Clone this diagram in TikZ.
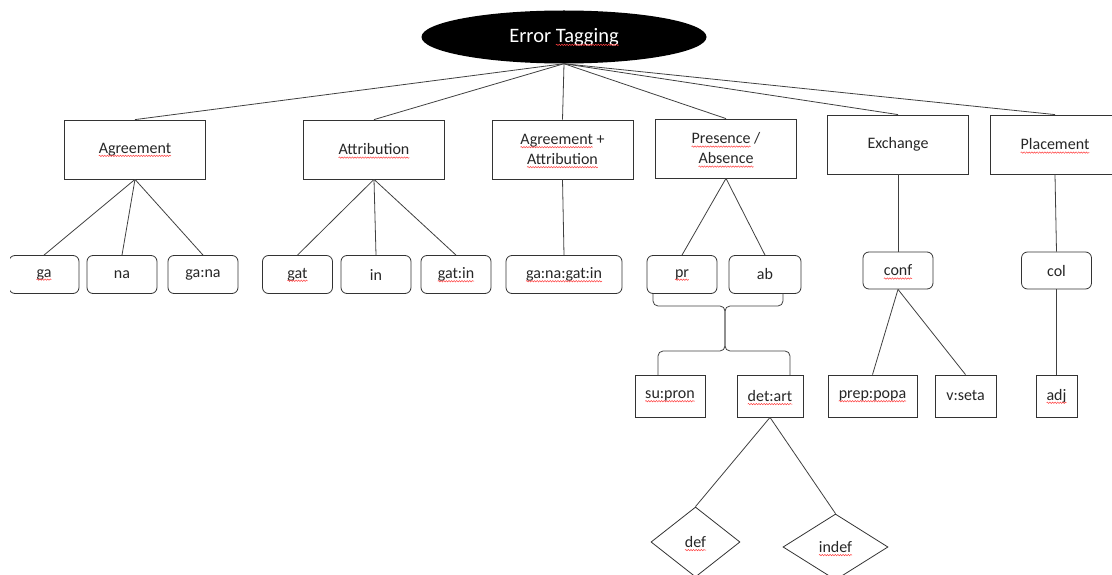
\documentclass[tikz,border=0pt]{standalone}
\usepackage{fontspec}
\setmainfont{Carlito}
\usetikzlibrary{shapes.geometric, decorations.pathmorphing}

% red spell-check squiggle under a word
\newcommand{\spellmark}[1]{\tikz[baseline=(sw.base)]{%
    \node[shape=rectangle, draw=none, fill=none, inner sep=0pt, outer sep=0pt, minimum width=0pt, minimum height=0pt] (sw) {#1};
    \draw[overlay, sharp corners, red!75, line width=0.5pt, decorate, decoration={snake, amplitude=0.7pt, segment length=2.6pt}]
        ([yshift=-2.6pt]sw.base west) -- ([yshift=-2.6pt]sw.base east);}}

\begin{document}
\begin{tikzpicture}[
        x=1pt, y=-1pt,
        font=\fontsize{16}{20}\selectfont,
        head/.style={ellipse, fill=black, text=white, minimum width=285pt, minimum height=53pt, font=\fontsize{20.5}{24}\selectfont},
        cat/.style={rectangle, draw=black!80, line width=0.8pt, minimum width=141pt, minimum height=59pt, align=center, inner sep=0pt, text=black!85},
        leaf/.style={rectangle, draw=black!80, line width=0.8pt, rounded corners=6pt, minimum width=70pt, minimum height=38pt, inner sep=0pt, text=black!85},
        tag/.style={rectangle, draw=black!80, line width=0.8pt, minimum height=42pt, inner sep=0pt, text=black!85},
        opt/.style={diamond, draw=black!80, line width=0.8pt, inner sep=0pt, text=black!85},
        con/.style={draw=black!75, line width=0.8pt}
    ]
        \useasboundingbox (0,0) rectangle (1112,575);
        \clip (10,0) rectangle (1112,575);

        % Root
        \node[head] (root) at (564,37) {Error \spellmark{Tagging}};

        % Error classes
        \node[cat] (agr) at (135,149.5) {\spellmark{Agreement}};
        \node[cat] (att) at (374,149.5) {\spellmark{Attribution}};
        \node[cat] (aga) at (562.5,149.5) {\spellmark{Agreement} +\\\spellmark{Attribution}};
        \node[cat] (pab) at (726,148.5) {\spellmark{Presence} /\\\spellmark{Absence}};
        \node[cat] (exc) at (898,144.5) {Exchange};
        \node[cat, minimum width=130pt] (plc) at (1055,144.5) {\spellmark{Placement}};

        % Tags, first level
        \node[leaf] (ga) at (44,274.5) {\spellmark{ga}};
        \node[leaf] (na) at (122,274.5) {na};
        \node[leaf] (gana) at (203,274.5) {ga:na};
        \node[leaf] (gat) at (297.5,274.5) {\spellmark{gat}};
        \node[leaf] (in) at (376,274.5) {in};
        \node[leaf] (gatin) at (456,274.5) {\spellmark{gat:in}};
        \node[leaf, minimum width=116pt] (gnga) at (564,274.5) {\spellmark{ga:na:gat:in}};
        \node[leaf] (pr) at (682,274.5) {\spellmark{pr}};
        \node[leaf, minimum width=72pt] (ab) at (765,274.5) {ab};
        \node[leaf, minimum height=37pt] (conf) at (898,270.5) {\spellmark{conf}};
        \node[leaf, minimum height=37pt] (col) at (1056.5,270.5) {col};

        % Tags, second level
        \node[tag, minimum width=70pt] (supron) at (670,396) {\spellmark{su:pron}};
        \node[tag, minimum width=66pt] (detart) at (770,396) {\spellmark{det:art}};
        \node[tag, minimum width=89pt] (prep) at (872.5,396) {\spellmark{prep:popa}};
        \node[tag, minimum width=61pt] (vseta) at (965.5,396) {v:seta};
        \node[tag, minimum width=41pt] (adj) at (1056.5,396) {\spellmark{adj}};

        % Article types
        \node[opt, minimum width=89pt, minimum height=70pt] (def) at (695.5,542) {\spellmark{def}};
        \node[opt, minimum width=105pt, minimum height=66pt] (indef) at (835.5,547) {\spellmark{indef}};

        % Brace points
        \coordinate (brl) at (653,293);
        \coordinate (brr) at (783,293);
        \coordinate (brm) at (725,306);
        \coordinate (brj) at (725,351);
        \coordinate (bsl) at (658,375);
        \coordinate (bsr) at (790,375);

        % Root to classes
        \foreach \c in {agr, att, aga, pab, exc, plc}
            \draw[con] (root.south) -- (\c.north);

        % Classes to tags
        \draw[con] (agr.south) -- (ga.north);
        \draw[con] (agr.south) -- (na.north);
        \draw[con] (agr.south) -- (gana.north);
        \draw[con] (att.south) -- (gat.north);
        \draw[con] (att.south) -- (in.north);
        \draw[con] (att.south) -- (gatin.north);
        \draw[con] (aga.south) -- (gnga.north);
        \draw[con] (pab.south) -- (pr.north);
        \draw[con] (pab.south) -- (ab.north);
        \draw[con] (exc.south) -- (conf.north);
        \draw[con] (plc.south) -- (col.north);

        % Braces under pr / ab
        \draw[con, rounded corners=5pt] (brl) |- (brm) -- (brj) -| (bsl);
        \draw[con, rounded corners=5pt] (brr) |- (brm) -- (brj) -| (bsr);

        % Second level
        \draw[con] (conf.south) -- (prep.north);
        \draw[con] (conf.south) -- (vseta.north);
        \draw[con] (col.south) -- (adj.north);
        \draw[con] (detart.south) -- (def.north);
        \draw[con] (detart.south) -- (indef.north);
    \end{tikzpicture}
\end{document}
